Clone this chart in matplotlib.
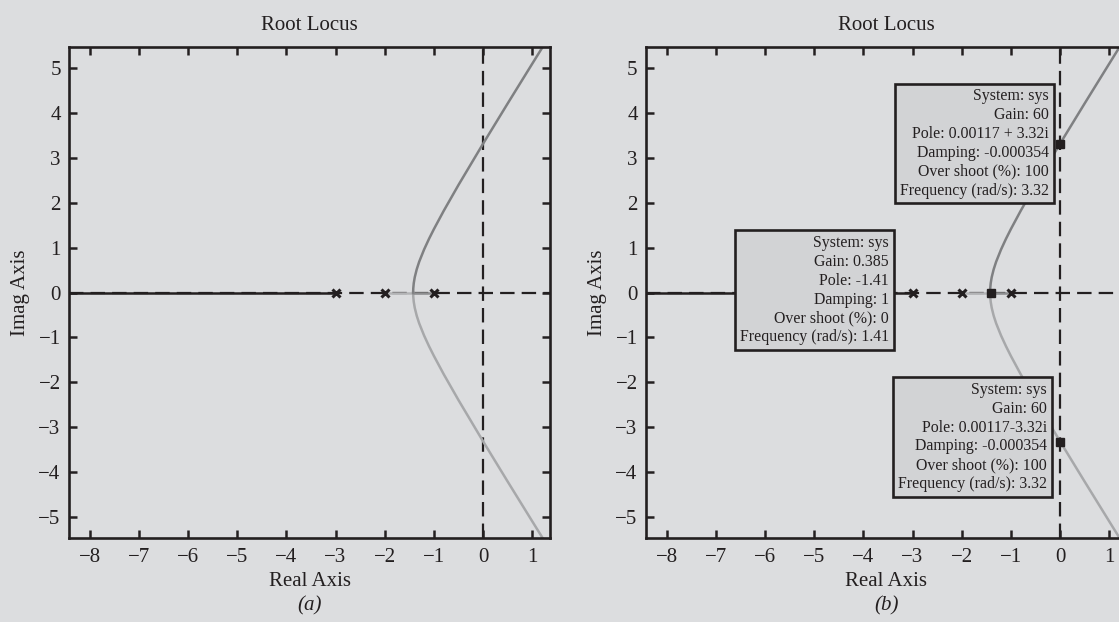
import matplotlib
matplotlib.use("Agg")
import matplotlib.pyplot as plt

# ---------------- data ----------------
pole_re = [-3, -2, -1]
pole_im = [0, 0, 0]

# branch starting at -3 heading to -infinity (real axis)
branch1_x = [-3.0, -9.0]
branch1_y = [0.0, 0.0]

# real-axis segments between -2 / -1 and breakaway point
branch2_real_x = [-2.0, -1.423]
branch3_real_x = [-1.0, -1.423]
real_seg_y = [0.0, 0.0]

# complex branches
upper_x = [-1.423, -1.42, -1.41, -1.39, -1.35, -1.30, -1.20, -1.10, -1.00,
           -0.80, -0.50, 0.00, 0.50, 1.00, 1.25]
upper_y = [0.0, 0.096, 0.210, 0.341, 0.517, 0.686, 0.959, 1.196, 1.414,
           1.822, 2.398, 3.317, 4.213, 5.099, 5.540]
lower_x = [-1.423, -1.42, -1.41, -1.39, -1.35, -1.30, -1.20, -1.10, -1.00,
           -0.80, -0.50, 0.00, 0.50, 1.00, 1.25]
lower_y = [0.0, -0.096, -0.210, -0.341, -0.517, -0.686, -0.959, -1.196, -1.414,
           -1.822, -2.398, -3.317, -4.213, -5.099, -5.540]

xticks = [-8, -7, -6, -5, -4, -3, -2, -1, 0, 1]
yticks = [-5, -4, -3, -2, -1, 0, 1, 2, 3, 4, 5]

# data tips (panel b)
tip_re = [0.00117, -1.41, 0.00117]
tip_im = [3.32, 0.0, -3.32]
tip_text = [
    "System: sys\nGain: 60\nPole: 0.00117 + 3.32i\nDamping: -0.000354\nOver shoot (%): 100\nFrequency (rad/s): 3.32",
    "System: sys\nGain: 0.385\nPole: -1.41\nDamping: 1\nOver shoot (%): 0\nFrequency (rad/s): 1.41",
    "System: sys\nGain: 60\nPole: 0.00117-3.32i\nDamping: -0.000354\nOver shoot (%): 100\nFrequency (rad/s): 3.32",
]
tip_box_x = [-0.23, -3.48, -0.27]
tip_box_y = [3.32, 0.05, -3.22]

panel_labels = ["(a)", "(b)"]

# ---------------- style ----------------
BG = "#dcdddf"
INK = "#231f20"
plt.rcParams["font.family"] = ["Liberation Serif", "DejaVu Serif"]

fig = plt.figure(figsize=(11.19, 6.22), dpi=100, facecolor=BG)

ax_pos = [[0.0617, 0.1350, 0.4298, 0.7894],
          [0.5773, 0.1350, 0.4298, 0.7894]]

for k, pos in enumerate(ax_pos):
    ax = fig.add_axes(pos)
    ax.set_facecolor(BG)
    ax.set_xlim(-8.42, 1.36)
    ax.set_ylim(-5.47, 5.47)

    # axes lines (dashed)
    ax.axhline(0, color=INK, lw=1.6, ls=(0, (6.5, 3.2)), zorder=1)
    ax.axvline(0, color=INK, lw=1.6, ls=(0, (6.5, 3.2)), zorder=1)

    # branches
    ax.plot(branch1_x, branch1_y, color=INK, lw=1.8, zorder=2, solid_capstyle="butt")
    ax.plot(branch2_real_x, real_seg_y, color="#b3b4b6", lw=1.8, zorder=2)
    ax.plot(lower_x, lower_y, color="#a7a8aa", lw=1.8, zorder=2)
    ax.plot(branch3_real_x, real_seg_y, color="#8e8f91", lw=1.8, zorder=2)
    ax.plot(upper_x, upper_y, color="#7f8082", lw=1.8, zorder=2)

    ax.plot(pole_re, pole_im, ls="none", marker="x", ms=6, mew=2.2,
            color=INK, zorder=4)

    ax.set_xticks(xticks)
    ax.set_yticks(yticks)
    ax.tick_params(axis="both", direction="in", length=5.5, width=1.8, top=True,
                   right=True, labelsize=15, colors=INK)
    ax.tick_params(axis="x", pad=7)
    ax.tick_params(axis="y", pad=6)
    for s in ax.spines.values():
        s.set_linewidth(1.9)
        s.set_color(INK)

    ax.set_title("Root Locus", fontsize=15, color=INK, pad=12)
    ax.set_xlabel("Real Axis", fontsize=15, color=INK, labelpad=4)
    ax.set_ylabel("Imag Axis", fontsize=15, color=INK, labelpad=6)
    ax.text(0.5, -0.1385, panel_labels[k], transform=ax.transAxes,
            ha="center", va="center", fontsize=15, style="italic", color=INK)

    if k == 1:
        ax.plot(tip_re, tip_im, ls="none", marker="s", ms=6, color=INK, zorder=6)
        for tx, bx, by in zip(tip_text, tip_box_x, tip_box_y):
            ax.text(bx, by, tx, ha="right", va="center", multialignment="right",
                    fontsize=11.4, color=INK, linespacing=1.24, zorder=7,
                    bbox=dict(boxstyle="square,pad=0.3", facecolor="#d2d3d5",
                              edgecolor=INK, linewidth=1.9))

fig.savefig("out.png", dpi=100, facecolor=BG)
